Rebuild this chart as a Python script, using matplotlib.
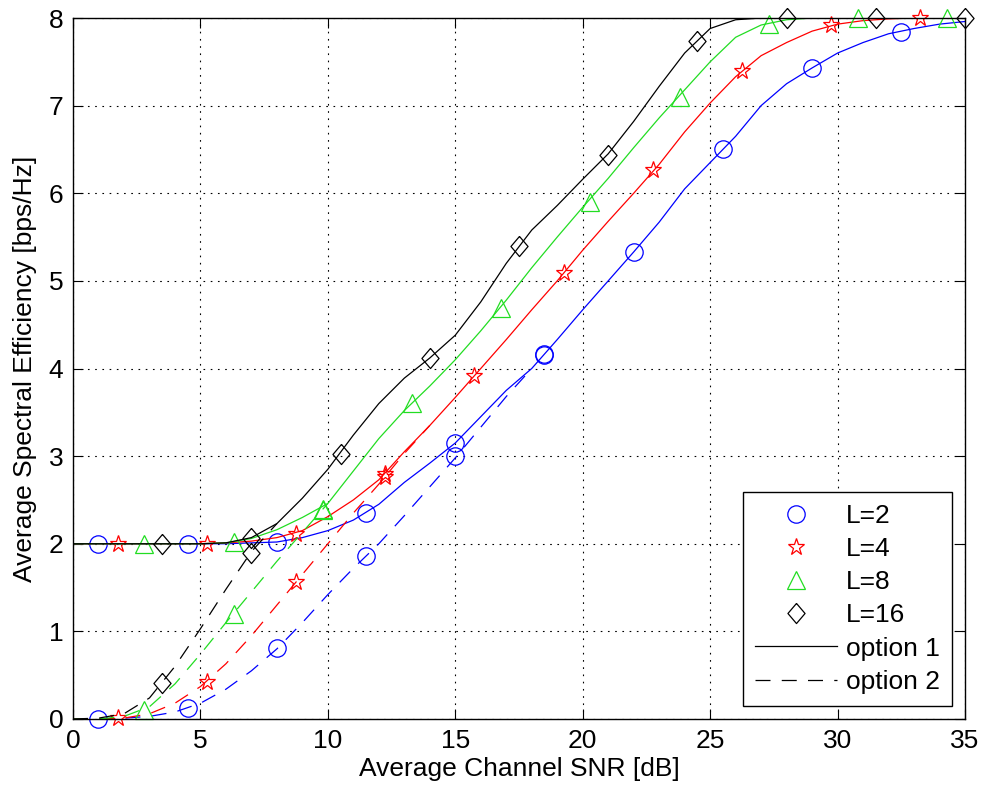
import numpy as np
import matplotlib
matplotlib.use('Agg')
import matplotlib.pyplot as plt
from matplotlib.lines import Line2D

plt.rcParams['font.family'] = ['Liberation Sans', 'DejaVu Sans']

# SNR grid for the curves [dB]
snr = np.arange(0, 36)

# option 1: spectral efficiency per number of levels L
se_opt1_l2 = [2.0, 2.0, 2.0, 2.0, 2.0, 2.0, 2.0, 2.01, 2.02, 2.07, 2.15, 2.27, 2.45, 2.7,
              2.92, 3.15, 3.45, 3.75, 4.0, 4.33, 4.67, 5.0, 5.33, 5.67, 6.05, 6.35, 6.65,
              7.0, 7.25, 7.43, 7.6, 7.72, 7.82, 7.88, 7.93, 7.96]
se_opt1_l4 = [2.0, 2.0, 2.0, 2.0, 2.0, 2.0, 2.01, 2.03, 2.07, 2.15, 2.31, 2.5, 2.73, 3.05,
              3.35, 3.67, 4.0, 4.33, 4.67, 5.0, 5.35, 5.68, 6.0, 6.33, 6.7, 7.03, 7.33,
              7.57, 7.72, 7.85, 7.93, 7.97, 7.99, 8.0, 8.0, 8.0]
se_opt1_l8 = [2.0, 2.0, 2.0, 2.0, 2.0, 2.0, 2.01, 2.06, 2.16, 2.3, 2.46, 2.83, 3.2, 3.52,
              3.8, 4.1, 4.43, 4.78, 5.15, 5.5, 5.84, 6.17, 6.52, 6.86, 7.18, 7.5, 7.78,
              7.92, 7.98, 8.0, 8.0, 8.0, 8.0, 8.0, 8.0, 8.0]
se_opt1_l16 = [2.0, 2.0, 2.0, 2.0, 2.0, 2.0, 2.01, 2.07, 2.23, 2.52, 2.85, 3.24, 3.6, 3.89,
               4.12, 4.38, 4.76, 5.2, 5.58, 5.86, 6.16, 6.45, 6.82, 7.22, 7.6, 7.88, 7.98,
               8.0, 8.0, 8.0, 8.0, 8.0, 8.0, 8.0, 8.0, 8.0]

# option 2: low-SNR part, up to where it joins option 1
se_opt2_l2 = [0.0, 0.0, 0.01, 0.03, 0.08, 0.18, 0.34, 0.55, 0.8, 1.1, 1.42, 1.72, 2.0,
              2.32, 2.65, 2.98, 3.33, 3.68, 4.0]
se_opt2_l4 = [0.0, 0.0, 0.01, 0.06, 0.18, 0.37, 0.63, 0.95, 1.3, 1.65, 2.0, 2.35, 2.68,
              3.03, 3.35]
se_opt2_l8 = [0.0, 0.0, 0.03, 0.14, 0.4, 0.74, 1.1, 1.45, 1.8, 2.13, 2.46]
se_opt2_l16 = [0.0, 0.01, 0.06, 0.24, 0.6, 1.03, 1.48, 1.91, 2.23]

# marker positions
mk_x_l2 = [1, 4.5, 8, 11.5, 15, 18.5, 22, 25.5, 29, 32.5]
mk_x_l4 = [1.75, 5.25, 8.75, 12.25, 15.75, 19.25, 22.75, 26.25, 29.75, 33.25]
mk_x_l8 = [2.8, 6.3, 9.8, 13.3, 16.8, 20.3, 23.8, 27.3, 30.8, 34.3]
mk_x_l16 = [3.5, 7, 10.5, 14, 17.5, 21, 24.5, 28, 31.5, 35]

mk_opt1_l2 = [2.0, 2.0, 2.02, 2.35, 3.15, 4.17, 5.33, 6.5, 7.43, 7.84]
mk_opt1_l4 = [2.0, 2.0, 2.11, 2.8, 3.91, 5.09, 6.26, 7.39, 7.92, 8.0]
mk_opt1_l8 = [2.0, 2.02, 2.4, 3.61, 4.69, 5.9, 7.1, 7.93, 8.0, 8.0]
mk_opt1_l16 = [2.0, 2.07, 3.02, 4.12, 5.4, 6.44, 7.74, 8.0, 8.0, 8.0]

mk_opt2_l2 = [0.0, 0.13, 0.81, 1.86, 3.0, 4.15]
mk_opt2_l4 = [0.01, 0.42, 1.56, 2.76]
mk_opt2_l8 = [0.1, 1.2, 2.38]
mk_opt2_l16 = [0.41, 1.9]

labels = ['L=2', 'L=4', 'L=8', 'L=16']
colors = ['#0000ff', '#ff0000', '#22dd22', '#000000']

diamond = [(0, 1), (0.85, 0), (0, -1), (-0.85, 0), (0, 1)]
markers = ['o', '*', '^', diamond]
msizes = [12.5, 12.5, 12.5, 14.5]

fig = plt.figure(figsize=(9.87, 7.98), dpi=100)
ax = fig.add_axes([73 / 987, 1 - 719 / 798, 892 / 987, 701 / 798])

series = [
    (se_opt1_l2, se_opt2_l2, mk_x_l2, mk_opt1_l2, mk_opt2_l2),
    (se_opt1_l4, se_opt2_l4, mk_x_l4, mk_opt1_l4, mk_opt2_l4),
    (se_opt1_l8, se_opt2_l8, mk_x_l8, mk_opt1_l8, mk_opt2_l8),
    (se_opt1_l16, se_opt2_l16, mk_x_l16, mk_opt1_l16, mk_opt2_l16),
]

for (s1, s2, mx, m1, m2), c, m, ms in zip(series, colors, markers, msizes):
    ax.plot(snr, s1, color=c, lw=0.9, ls='-')
    ax.plot(snr[:len(s2)], s2, color=c, lw=0.9, dashes=(12, 9))
    ax.plot(mx, m1, ls='none', marker=m, ms=ms, mfc='none', mec=c, mew=0.9,
            clip_on=False)
    ax.plot(mx[:len(m2)], m2, ls='none', marker=m, ms=ms, mfc='none', mec=c,
            mew=0.9, clip_on=False)

ax.set_xlim(0, 35)
ax.set_ylim(0, 8)
ax.set_xticks(np.arange(0, 36, 5))
ax.set_yticks(np.arange(0, 9, 1))
ax.tick_params(direction='in', length=7, width=0.8, top=True, right=True,
               labelsize=19, pad=7)
ax.grid(True, color='black', lw=0.8, ls=(0, (1.5, 5)))
for sp in ax.spines.values():
    sp.set_linewidth(1.0)

ax.set_xlabel('Average Channel SNR [dB]', fontsize=19, labelpad=3)
ax.set_ylabel('Average Spectral Efficiency [bps/Hz]', fontsize=19, labelpad=8)

handles = [Line2D([], [], ls='none', marker=m, ms=ms, mfc='none', mec=c, mew=0.9)
           for m, ms, c in zip(markers, msizes, colors)]
handles += [Line2D([], [], color='black', lw=0.9, ls='-'),
            Line2D([], [], color='black', lw=0.9, dashes=(12, 9))]
leg = ax.legend(handles, labels + ['option 1', 'option 2'], loc='lower right',
                fontsize=19, frameon=True, fancybox=False, framealpha=1,
                edgecolor='black', handlelength=3.1, handletextpad=0.35,
                labelspacing=0.35, borderpad=0.45, borderaxespad=0.5)
leg.get_frame().set_linewidth(1.0)

fig.savefig('out.png', dpi=100)
